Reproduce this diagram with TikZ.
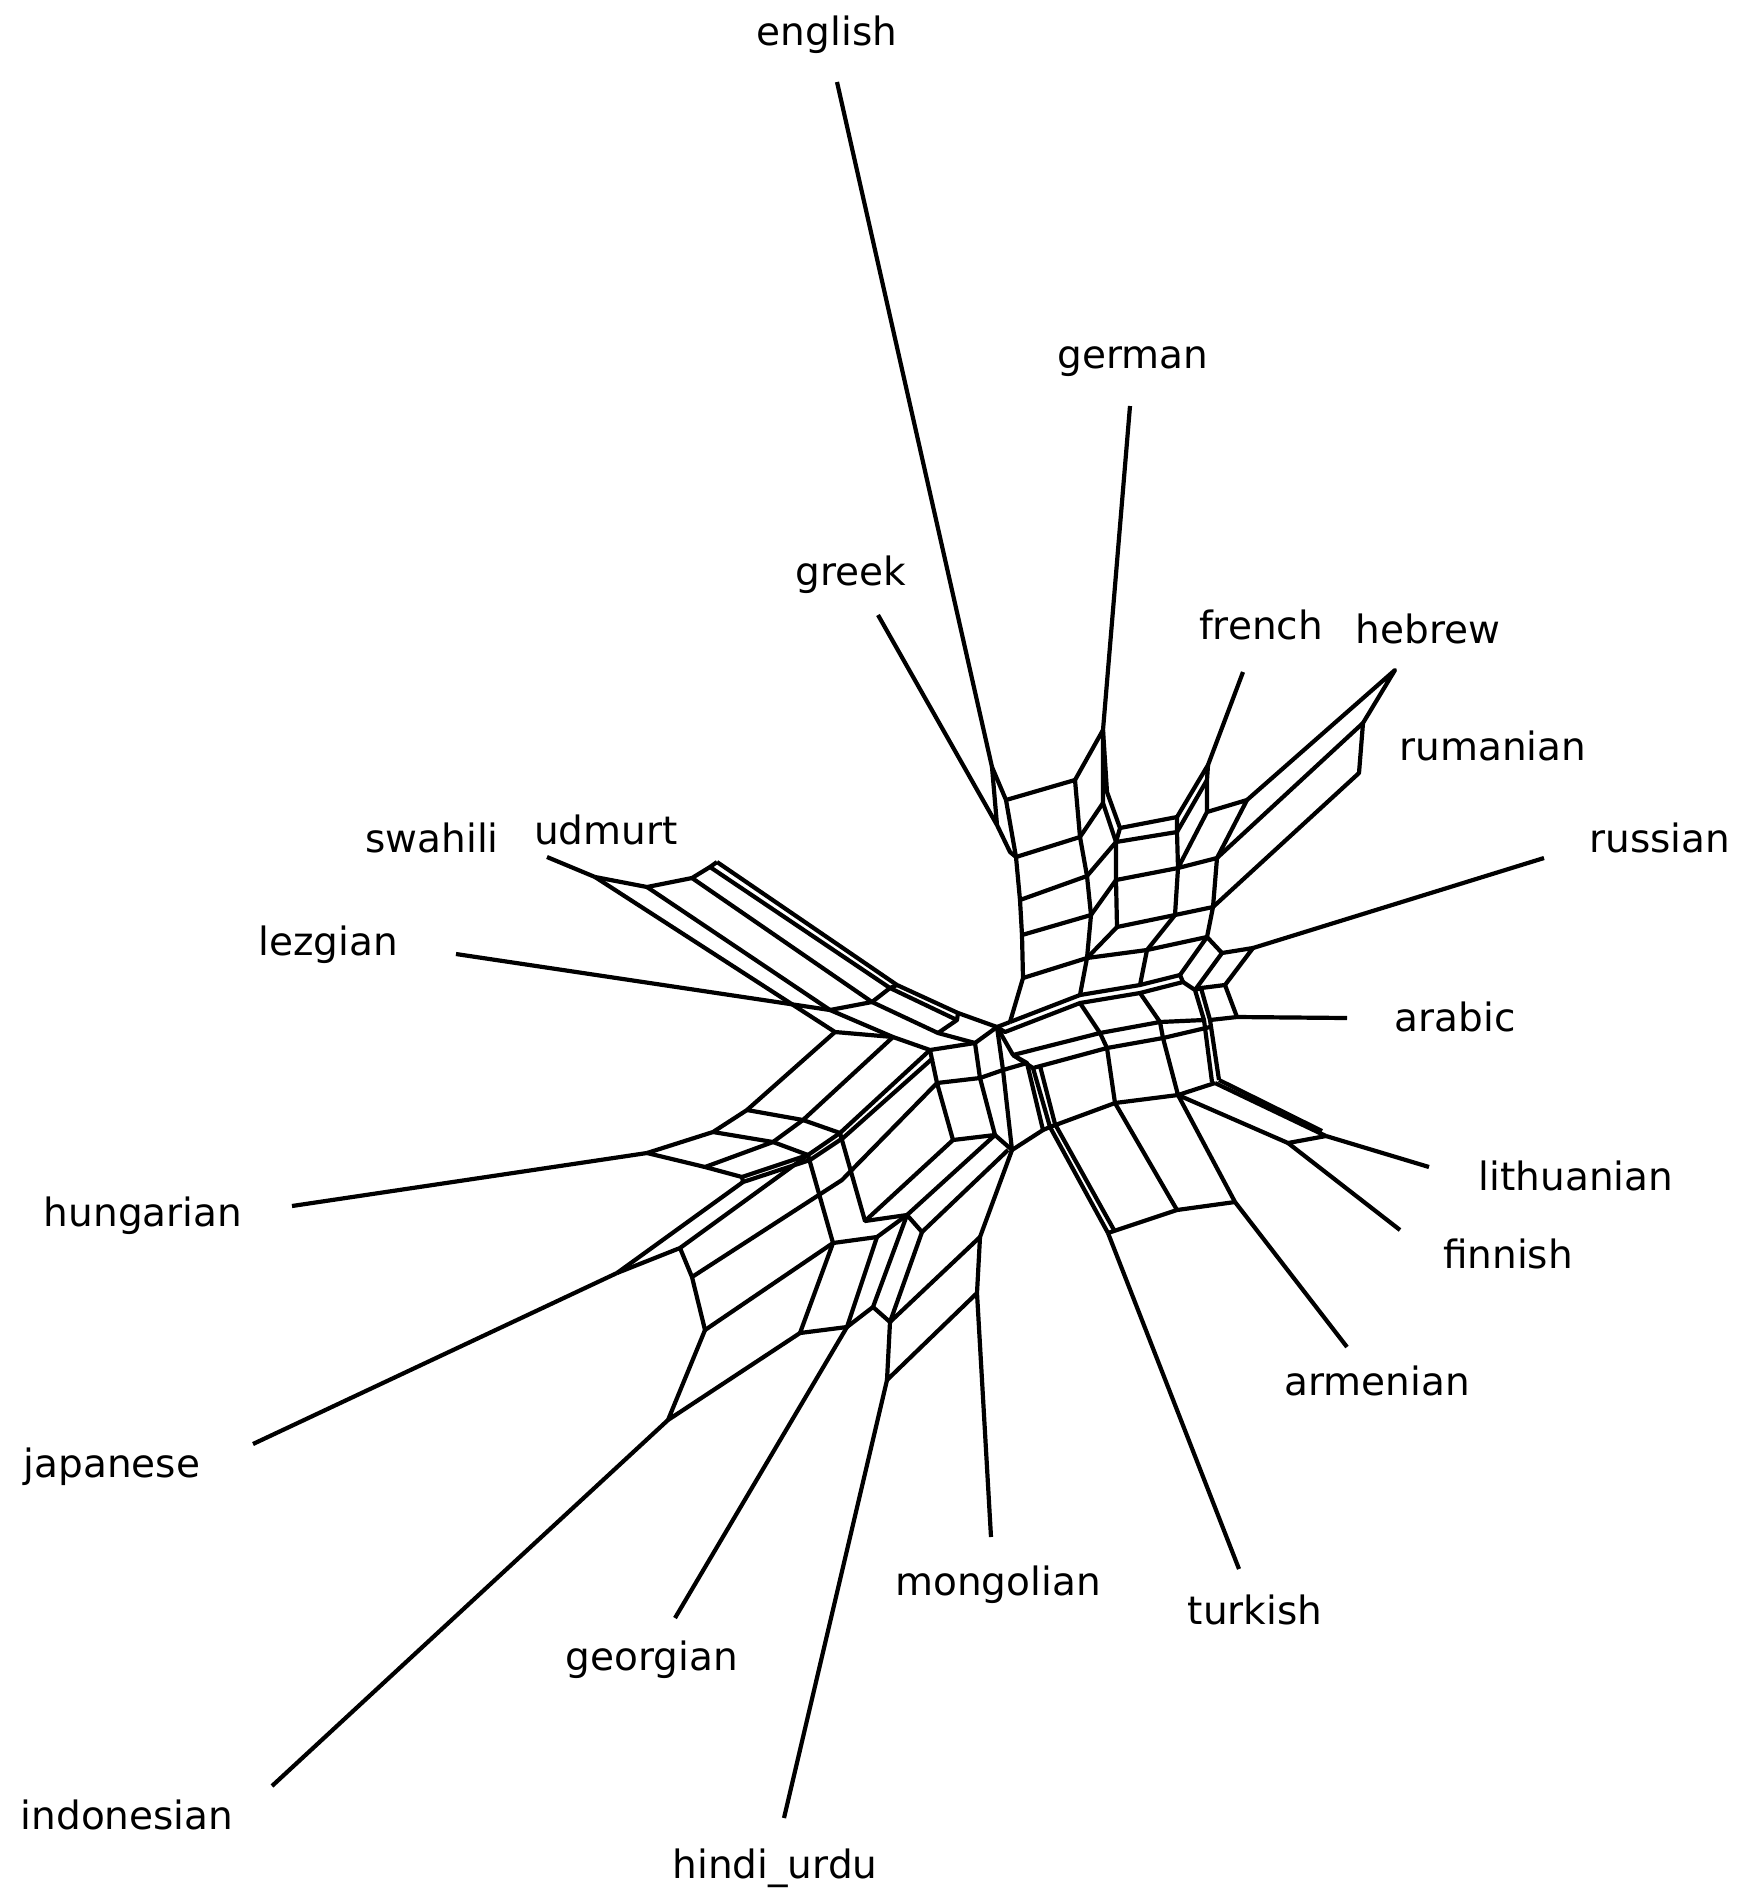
\documentclass[tikz,border=0pt]{standalone}
\usepackage{fontspec}
\setmainfont{DejaVu Sans}
\begin{document}
\begin{tikzpicture}[x=1pt, y=-1pt,
    taxon/.style={font=\fontsize{39}{46}\selectfont, anchor=base, inner sep=0pt},
    split/.style={line width=4.2pt, line join=round}]
\useasboundingbox (0,0) rectangle (1741,1891);

% taxon labels
\node[taxon] (english)    at (827,45)    {english};
\node[taxon] (german)     at (1133,368)  {german};
\node[taxon] (greek)      at (851,585)   {greek};
\node[taxon] (french)     at (1261,639)  {french};
\node[taxon] (hebrew)     at (1428,643)  {hebrew};
\node[taxon] (rumanian)   at (1493,760)  {rumanian};
\node[taxon] (russian)    at (1660,852)  {russian};
\node[taxon] (arabic)     at (1455,1031) {arabic};
\node[taxon] (lithuanian) at (1576,1190) {lithuanian};
\node[taxon] (finnish)    at (1508,1268) {finnish};
\node[taxon] (armenian)   at (1377,1395) {armenian};
\node[taxon] (turkish)    at (1255,1624) {turkish};
\node[taxon] (mongolian)  at (998,1595)  {mongolian};
\node[taxon] (hindi)      at (775,1878)  {hindi\_urdu};
\node[taxon] (georgian)   at (652,1670)  {georgian};
\node[taxon] (indonesian) at (127,1829)  {indonesian};
\node[taxon] (japanese)   at (112,1477)  {japanese};
\node[taxon] (hungarian)  at (143,1226)  {hungarian};
\node[taxon] (lezgian)    at (328,955)   {lezgian};
\node[taxon] (swahili)    at (432,852)   {swahili};
\node[taxon] (udmurt)     at (606,844)   {udmurt};

% pendant edges: outer tip (-t) and attachment (-b)
\coordinate (english-t) at (837,82);      \coordinate (english-b) at (992,767);
\coordinate (greek-t) at (878,615);       \coordinate (greek-b) at (997,825);
\coordinate (german-t) at (1130,406);     \coordinate (german-b) at (1103,730);
\coordinate (french-t) at (1243,672);     \coordinate (french-b) at (1208,765);
\coordinate (hebrew-t) at (1395,670);
\coordinate (rumanian-t) at (1359,773);
\coordinate (russian-t) at (1544,858);    \coordinate (russian-b) at (1253,948);
\coordinate (arabic-t) at (1347,1018);    \coordinate (arabic-b) at (1237,1017);
\coordinate (lithuanian-t) at (1429,1167); \coordinate (lithuanian-b) at (1326,1136);
\coordinate (finnish-t) at (1400,1230);   \coordinate (finnish-b) at (1288,1143);
\coordinate (armenian-t) at (1347,1347);  \coordinate (armenian-b) at (1235,1202);
\coordinate (turkish-t) at (1239,1569);   \coordinate (turkish-b) at (1108,1233);
\coordinate (mongolian-t) at (991,1537);  \coordinate (mongolian-b) at (977,1293);
\coordinate (hindi-t) at (784,1818);      \coordinate (hindi-b) at (887,1380);
\coordinate (georgian-t) at (675,1618);   \coordinate (georgian-b) at (847,1327);
\coordinate (indonesian-t) at (272,1786); \coordinate (indonesian-b) at (668,1420);
\coordinate (japanese-t) at (253,1444);   \coordinate (japanese-b) at (617,1273);
\coordinate (hungarian-t) at (292,1206);  \coordinate (hungarian-b) at (647,1153);
\coordinate (lezgian-t) at (456,954);     \coordinate (lezgian-b) at (830,1010);
\coordinate (swahili-t) at (547,857);     \coordinate (swahili-b) at (595,877);
\coordinate (udmurt-t) at (717,862);

\foreach \t in {english, greek, german, french, russian, arabic, lithuanian, finnish,
    armenian, turkish, mongolian, hindi, georgian, indonesian, japanese, hungarian,
    lezgian, swahili}
  \draw[split] (\t-t) -- (\t-b);

% english / greek / german column
\draw[split] (english-b) -- (greek-b) -- (1010,852) -- (1016,857);
\draw[split] (english-b) -- (1006,800) -- (1016,857) -- (1020,900) -- (1022,935) -- (1023,978) -- (1010,1022);
\draw[split] (1006,800) -- (1075,780) -- (1080,837) -- (1087,876) -- (1091,915) -- (1087,958) -- (1080,995);
\draw[split] (1016,857) -- (1080,837);
\draw[split] (1020,900) -- (1087,876);
\draw[split] (1022,935) -- (1091,915);
\draw[split] (1023,978) -- (1087,958);
\draw[split] (1075,780) -- (german-b);
\draw[split] (1080,837) -- (1103,803);
\draw[split] (1087,876) -- (1116,842);
\draw[split] (1091,915) -- (1116,880);
\draw[split] (1087,958) -- (1117,927);
\draw[split] (german-b) -- (1107,792) -- (1120,828) -- (1116,842);
\draw[split] (german-b) -- (1103,803) -- (1116,842) -- (1116,880) -- (1117,927);
\draw[split] (1120,828) -- (1177,817) -- (1177,832) -- (1178,868) -- (1175,915);
\draw[split] (1116,842) -- (1177,832);
\draw[split] (1116,880) -- (1178,868);
\draw[split] (1117,927) -- (1175,915) -- (1213,907);

% french / hebrew / rumanian
\draw[split] (1177,817) -- (french-b) -- (1207,780) -- (1207,812);
\draw[split] (1177,832) -- (1207,780);
\draw[split] (1178,868) -- (1207,812) -- (1247,800) -- (1217,858) -- (1178,868);
\draw[split] (1217,858) -- (1213,907);
\draw[split] (1247,800) -- (hebrew-t) -- (1363,723) -- (rumanian-t) -- (1213,907);
\draw[split] (1217,858) -- (1363,723);

% russian / arabic
\draw[split] (1087,958) -- (1147,950) -- (1207,937) -- (1213,907);
\draw[split] (1175,915) -- (1147,950) -- (1140,985);
\draw[split] (1207,937) -- (1180,975);
\draw[split] (1207,937) -- (1222,953) -- (russian-b) -- (1225,985) -- (1201,988);
\draw[split] (1222,953) -- (1195,990);
\draw[split] (1225,985) -- (arabic-b);

% central band
\draw[split] (1010,1022) -- (1080,995) -- (1140,985) -- (1180,975) -- (1183,982);
\draw[split] (997,1027) -- (1005,1032) -- (1080,1003) -- (1140,993) -- (1183,982) -- (1195,990) -- (1204,1020) -- (1212,1082);
\draw[split] (1195,990) -- (1201,988) -- (1210,1020) -- (1219,1080);
\draw[split] (1210,1020) -- (arabic-b);
\draw[split] (997,1027) -- (1010,1022);
\draw[split] (997,1027) -- (1013,1055) -- (1100,1033) -- (1160,1022) -- (1204,1020);
\draw[split] (1013,1055) -- (1033,1068) -- (1107,1048) -- (1163,1038) -- (1210,1027);
\draw[split] (1080,1003) -- (1100,1033) -- (1107,1048) -- (1115,1103);
\draw[split] (1140,993) -- (1160,1022) -- (1163,1038) -- (1178,1095);
\draw[split] (1033,1068) -- (1050,1127) -- (1115,1103) -- (1178,1095) -- (1215,1083);
\draw[split] (1040,1066) -- (1055,1124);

% lithuanian / finnish / armenian / turkish
\draw[split] (1050,1127) -- (turkish-b);
\draw[split] (1055,1124) -- (1114,1230);
\draw[split] (1115,1103) -- (1177,1210);
\draw[split] (turkish-b) -- (1177,1210) -- (armenian-b);
\draw[split] (1178,1095) -- (armenian-b);
\draw[split] (1215,1083) -- (lithuanian-b);
\draw[split] (1219,1080) -- (1322,1131);
\draw[split] (1178,1095) -- (finnish-b) -- (lithuanian-b);

% swahili / udmurt / lezgian
\draw[split] (swahili-b) -- (647,887) -- (692,878) -- (710,867) -- (udmurt-t);
\draw[split] (swahili-b) -- (835,1032) -- (893,1037);
\draw[split] (647,887) -- (lezgian-b) -- (893,1037) -- (930,1050) -- (975,1043) -- (997,1027);
\draw[split] (692,878) -- (872,1002) -- (938,1033) -- (975,1043);
\draw[split] (710,867) -- (890,988) -- (957,1020);
\draw[split] (udmurt-t) -- (897,985) -- (958,1013) -- (997,1027);
\draw[split] (lezgian-b) -- (872,1002) -- (890,988) -- (897,985);
\draw[split] (938,1033) -- (957,1020) -- (958,1013);

% hungarian / japanese / indonesian
\draw[split] (835,1032) -- (747,1110) -- (713,1132) -- (hungarian-b);
\draw[split] (893,1037) -- (803,1120) -- (773,1142) -- (705,1167);
\draw[split] (930,1050) -- (840,1133) -- (808,1155) -- (742,1177);
\draw[split] (747,1110) -- (803,1120) -- (840,1133);
\draw[split] (713,1132) -- (773,1142) -- (808,1155);
\draw[split] (hungarian-b) -- (705,1167) -- (742,1177) -- (743,1182);
\draw[split] (743,1182) -- (810,1160) -- (843,1138) -- (933,1058);
\draw[split] (743,1182) -- (japanese-b);
\draw[split] (808,1155) -- (680,1248) -- (japanese-b);
\draw[split] (680,1248) -- (692,1277) -- (705,1330);
\draw[split] (692,1277) -- (842,1180) -- (937,1083);
\draw[split] (705,1330) -- (833,1243) -- (808,1155);
\draw[split] (833,1243) -- (800,1333);
\draw[split] (705,1330) -- (indonesian-b) -- (800,1333);

% georgian / hindi_urdu / mongolian
\draw[split] (833,1243) -- (877,1237) -- (907,1215) -- (922,1232);
\draw[split] (840,1133) -- (865,1221) -- (907,1215);
\draw[split] (877,1237) -- (georgian-b) -- (800,1333);
\draw[split] (907,1215) -- (873,1307) -- (georgian-b);
\draw[split] (922,1232) -- (890,1322) -- (873,1307);
\draw[split] (890,1322) -- (hindi-b) -- (mongolian-b);
\draw[split] (890,1322) -- (980,1237);
\draw[split] (mongolian-b) -- (980,1237) -- (1012,1150);
\draw[split] (922,1232) -- (1008,1150);

% core
\draw[split] (930,1050) -- (937,1083) -- (953,1140) -- (995,1135) -- (1012,1150) -- (1043,1130) -- (1050,1127);
\draw[split] (937,1083) -- (980,1078) -- (1003,1070) -- (1027,1063) -- (1043,1130);
\draw[split] (975,1043) -- (980,1078) -- (995,1135);
\draw[split] (997,1027) -- (1003,1070) -- (1012,1150);
\draw[split] (1013,1055) -- (1027,1063);
\draw[split] (907,1215) -- (995,1135);
\draw[split] (865,1221) -- (953,1140);
\end{tikzpicture}
\end{document}
